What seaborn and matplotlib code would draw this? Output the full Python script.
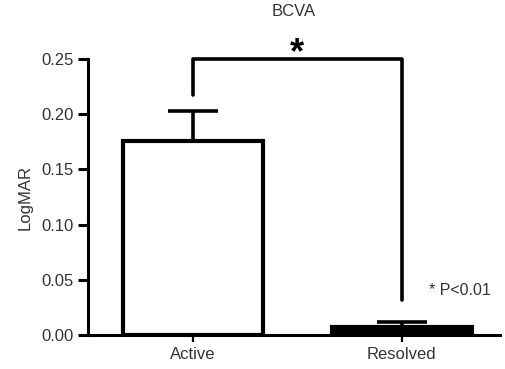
import numpy as np
import pandas as pd
import seaborn as sns
import matplotlib.pyplot as plt

# ----- values -----
groups = ["Active", "Resolved"]
means = [0.176, 0.007]
sems = [0.027, 0.0052]
bracket_y = 0.25
bracket_ends = [0.217, 0.032]

df = pd.DataFrame({"group": groups, "logmar": means})

sns.set_style("ticks")
plt.rcParams["font.family"] = ["Liberation Sans", "DejaVu Sans"]
txt = "#333333"

fig = plt.figure(figsize=(5.05, 3.69), dpi=100)
ax = fig.add_axes([0.174, 0.092, 0.816, 0.748])

lw = 2.6
# the Resolved bar is so short that its thick outline fills it completely
sns.barplot(data=df, x="group", y="logmar", hue="group",
            palette={"Active": "white", "Resolved": "black"}, legend=False,
            edgecolor="black", linewidth=3.0, width=0.67, errorbar=None, ax=ax)

# upper-only error bars
ax.errorbar(x=np.arange(len(groups)), y=means, yerr=[np.zeros(len(sems)), sems],
            fmt="none", ecolor="black", elinewidth=lw, capsize=18, capthick=lw)

# significance bracket
ax.plot([0, 0, 1, 1], [bracket_ends[0], bracket_y, bracket_y, bracket_ends[1]],
        color="black", lw=lw, solid_capstyle="round", solid_joinstyle="round",
        clip_on=False)
ax.text(0.5, bracket_y - 0.011, "*", ha="center", va="bottom", fontsize=26,
        fontweight="bold", color="black")
ax.text(1.13, 0.040, "* P<0.01", ha="left", va="center", fontsize=11.5, color=txt)

ax.set_xlim(-0.502, 1.47)
ax.set_ylim(0, 0.25)
ax.set_yticks([0, 0.05, 0.10, 0.15, 0.20, 0.25])
ax.set_yticklabels(["0.00", "0.05", "0.10", "0.15", "0.20", "0.25"])
ax.set_xlabel("")
ax.set_ylabel("LogMAR", fontsize=12, color=txt, labelpad=6)
ax.set_title("BCVA", fontsize=12, pad=31, color=txt)

sns.despine(ax=ax)
for s in ["left", "bottom"]:
    ax.spines[s].set_linewidth(2.2)
    ax.spines[s].set_color("black")
ax.tick_params(axis="both", labelsize=12, labelcolor=txt, color="black")
ax.tick_params(axis="x", length=5, width=1.6)
ax.tick_params(axis="y", length=7, width=2.2)

plt.savefig("out.png", dpi=100)
